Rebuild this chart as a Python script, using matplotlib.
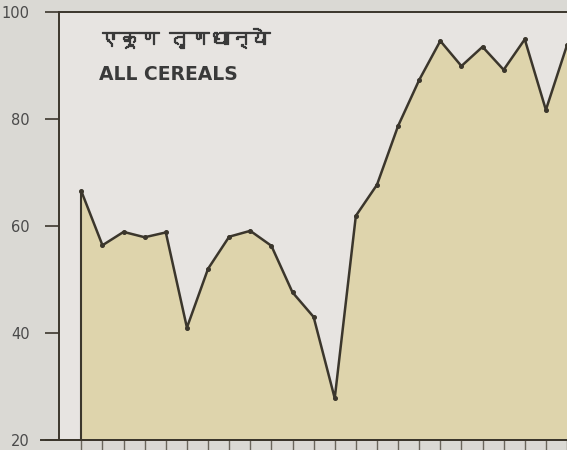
import matplotlib
matplotlib.use("Agg")
from matplotlib import pyplot as plt
from matplotlib import font_manager
from matplotlib import patheffects
from matplotlib.ft2font import FT2Font

# Index values, one per year (year labels are not printed on the chart)
years = list(range(24))
cereals = [66.5, 56.4, 58.9, 57.9, 58.8, 41.0, 52.0, 58.0, 59.1, 56.3,
           47.6, 43.0, 27.8, 61.9, 67.7, 78.7, 87.3, 94.6, 89.9, 93.5,
           89.2, 94.9, 81.7, 93.8]
y_ticks = [20, 40, 60, 80, 100]
title_mr = "एकूण तृणधान्ये"
title_en = "ALL CEREALS"


def find_devanagari_font():
    """Look for any installed font that has Devanagari glyphs"""
    for path in sorted(font_manager.findSystemFonts()):
        try:
            if 0x0915 in FT2Font(path).get_charmap():
                return font_manager.FontProperties(fname=path)
        except Exception:
            continue
    return None


def main():
    line_col = "#3b362c"
    fill_col = "#ded4ac"
    text_col = "#4a4a4a"
    title_col = "#3a3a3a"

    fig = plt.figure(figsize=(5.67, 4.5), dpi=100)
    fig.patch.set_facecolor("#dad9d4")
    ax = fig.add_axes([0.104, 0.0222, 0.896, 0.9511])
    ax.set_facecolor("#e7e4e1")

    ax.fill_between(years, 20, cereals, color=fill_col, lw=0, zorder=1)
    ax.plot(years, cereals, color=line_col, lw=1.8, marker="o",
            markersize=2.6, zorder=3, clip_on=False)
    ax.vlines(years[0], 20, cereals[0], color=line_col, lw=1.5, zorder=2)

    ax.set_xlim(-1.06, 22.95)
    ax.set_ylim(20, 100)
    ax.set_xticks(years)
    ax.set_xticklabels([])
    ax.set_yticks(y_ticks)
    ax.set_yticklabels([str(v) for v in y_ticks], color=text_col,
                       fontsize=10.5)
    ax.tick_params(axis="y", direction="out", length=10, width=1.2,
                   color=line_col, pad=11)
    ax.tick_params(axis="x", direction="out", length=8, width=1,
                   color="#6a665c")

    ax.spines["right"].set_visible(False)
    for side in ["left", "top", "bottom"]:
        ax.spines[side].set_color(line_col)
        ax.spines[side].set_linewidth(1.4)

    # bottom baseline runs a bit further left than the tick marks
    ax.plot([-1.9, 23], [20, 20], color=line_col, lw=1.4, clip_on=False,
            zorder=4)

    # thicken the Devanagari heading a little, it is printed bold
    bold = [patheffects.withStroke(linewidth=0.9, foreground=title_col)]
    dev_font = find_devanagari_font()
    if dev_font is not None:
        dev_font.set_size(14.5)
        ax.text(0.078, 0.94, title_mr, transform=ax.transAxes,
                fontproperties=dev_font, color=title_col, va="center",
                path_effects=bold)
    else:
        ax.text(0.078, 0.94, title_mr, transform=ax.transAxes,
                fontsize=14.5, color=title_col, va="center",
                path_effects=bold)
    ax.text(0.078, 0.853, title_en, transform=ax.transAxes, fontsize=13.5,
            fontweight="bold", color=title_col, va="center")

    plt.savefig("out.png", dpi=100, facecolor=fig.get_facecolor())


if __name__ == "__main__":
    main()
